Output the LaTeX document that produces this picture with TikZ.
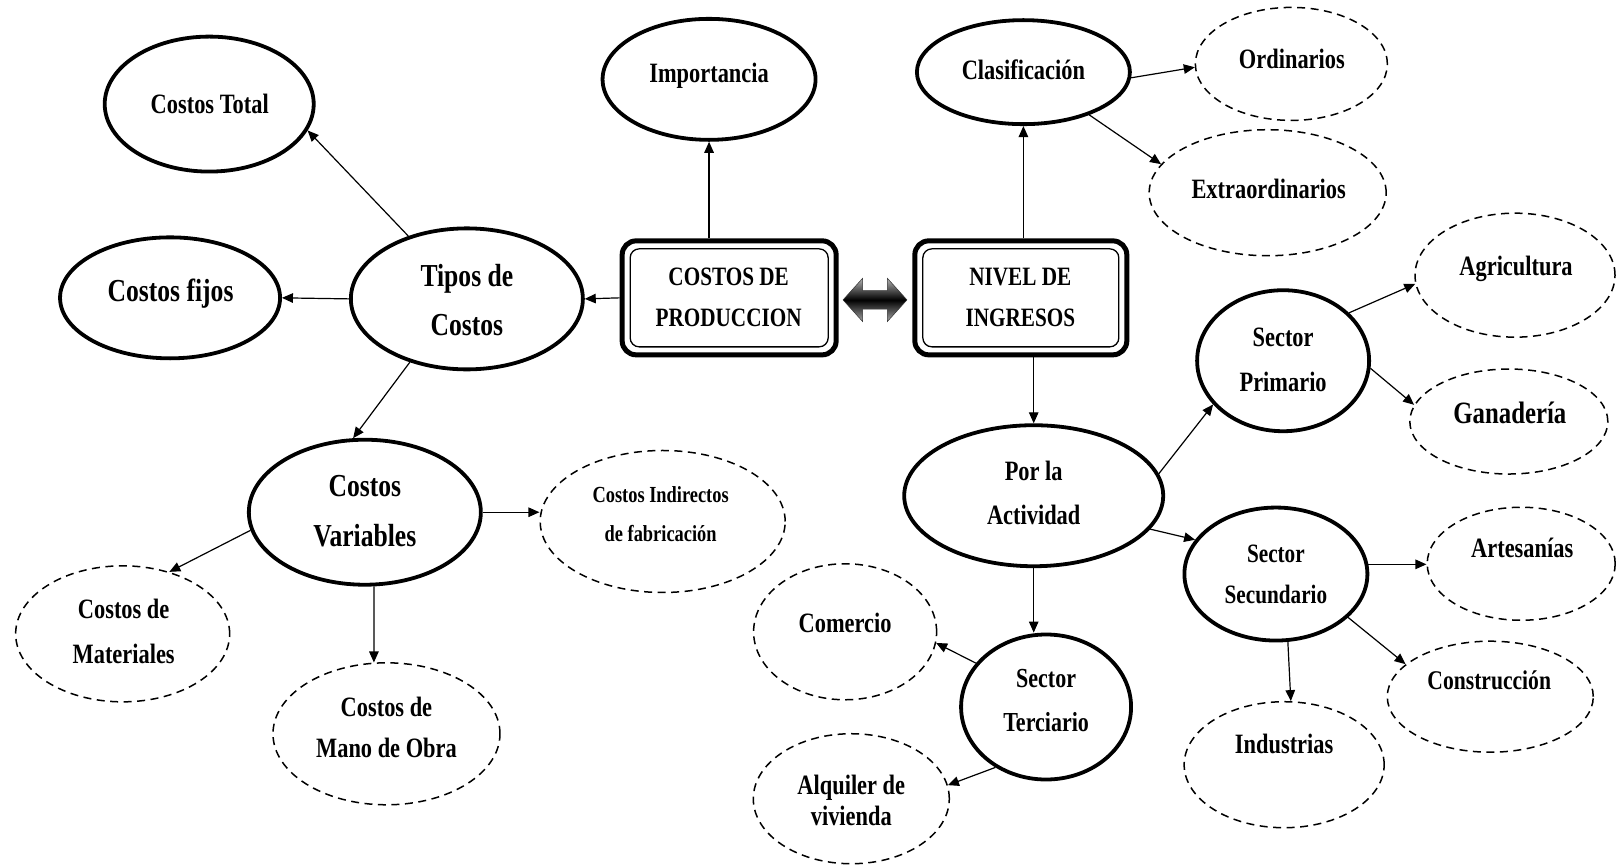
\documentclass[tikz,border=0pt]{standalone}
\usepackage{fontspec}
\setmainfont{Liberation Serif}[FakeStretch=0.8]
\usetikzlibrary{shapes.geometric,arrows.meta,calc}
\tikzset{
  sol/.style={ellipse, draw, line width=3.8pt, inner sep=0pt},
  dsh/.style={ellipse, draw, line width=1.5pt, dash pattern=on 8pt off 5.5pt, inner sep=0pt},
  txt/.style n args={2}{font=\bfseries\fontsize{#1}{#2}\selectfont, align=center, inner sep=0pt},
  arr/.style={-{Triangle[length=11pt,width=9.5pt]}, line width=1.2pt},
  outbox/.style={draw, rectangle, rounded corners=14pt, line width=5pt, minimum width=214pt, minimum height=114pt, inner sep=0pt},
  inbox/.style={draw, rectangle, rounded corners=9pt, line width=1.3pt, minimum width=198pt, minimum height=98pt, inner sep=0pt}
}
\begin{document}
\begin{tikzpicture}[x=1.0306pt, y=-1.0306pt]
\fill[white] (0,0) rectangle (1568,841);
\useasboundingbox (0,0) rectangle (1568,841);

% central boxes
\node[outbox] (cp) at (707.5,289) {};
\node[inbox] (cpin) at (707.5,289) {};
\node[txt={26.5}{41}] (cpt) at (707,289) {COSTOS DE\\PRODUCCION};
\node[outbox, minimum width=212pt] (ni) at (990.5,289) {};
\node[inbox, minimum width=196pt] (niin) at (990.5,289) {};
\node[txt={26.5}{41}] (nit) at (990,289) {NIVEL DE\\INGRESOS};

% double arrow
\shadedraw[top color=gray!60, bottom color=gray!70, middle color=black, draw=black!80, line width=0.5pt]
  (818,291) -- (837,270) -- (837,282) -- (861,282) -- (861,270) -- (880,291)
  -- (861,312) -- (861,300) -- (837,300) -- (837,312) -- cycle;

% solid ellipses
\node[sol, minimum width=209pt, minimum height=135pt] (ct) at (203,101) {};
\node[txt={28}{45}] (ctt) at (203.5,101) {Costos Total};
\node[sol, minimum width=213pt, minimum height=121pt] (imp) at (688,77) {};
\node[txt={28}{45}] (impt) at (688,74) {Importancia};
\node[sol, minimum width=213pt, minimum height=104pt] (clas) at (993,70) {};
\node[txt={28}{45}] (clast) at (993,68) {Clasificación};
\node[sol, minimum width=220pt, minimum height=121pt] (fij) at (165,289) {};
\node[txt={32}{45}] (fijt) at (165.5,285) {Costos fijos};
\node[sol, minimum width=232pt, minimum height=141pt] (tip) at (453,290) {};
\node[txt={32}{49.5}] (tipt) at (453,291) {Tipos de\\Costos};
\node[sol, minimum width=172pt, minimum height=141pt] (sp) at (1245,350) {};
\node[txt={28}{45}] (spt) at (1245,349) {Sector\\Primario};
\node[sol, minimum width=232pt, minimum height=145pt] (cv) at (354,497) {};
\node[txt={32}{49.5}] (cvt) at (354,496) {Costos\\Variables};
\node[sol, minimum width=259pt, minimum height=141pt] (pa) at (1003,481) {};
\node[txt={28}{44}] (pat) at (1003,478) {Por la\\Actividad};
\node[sol, minimum width=183pt, minimum height=133pt] (ss) at (1238,557) {};
\node[txt={26.5}{41}] (sst) at (1238,557) {Sector\\Secundario};
\node[sol, minimum width=170pt, minimum height=145pt] (st) at (1015,686) {};
\node[txt={27.5}{44}] (stt) at (1015,680) {Sector\\Terciario};

% dashed ellipses
\node[dsh, minimum width=192pt, minimum height=113pt] (ord) at (1253,62) {};
\node[txt={28}{45}] (ordt) at (1253.5,57) {Ordinarios};
\node[dsh, minimum width=237pt, minimum height=126pt] (ext) at (1230,187) {};
\node[txt={28}{45}] (extt) at (1231,183) {Extraordinarios};
\node[dsh, minimum width=200pt, minimum height=124pt] (agr) at (1470,267) {};
\node[txt={28}{45}] (agrt) at (1471,261) {Agricultura};
\node[dsh, minimum width=198pt, minimum height=105pt] (gan) at (1464,409) {};
\node[txt={31}{45}] (gant) at (1465,401) {Ganadería};
\node[dsh, minimum width=245pt, minimum height=142pt] (ind) at (643,506) {};
\node[txt={23}{39}] (indt) at (641,499) {Costos Indirectos\\de fabricación};
\node[dsh, minimum width=214pt, minimum height=136pt] (mat) at (119,615) {};
\node[txt={28}{45}] (matt) at (120,613) {Costos de\\Materiales};
\node[dsh, minimum width=227pt, minimum height=142pt] (mo) at (375,712) {};
\node[txt={28}{41}] (mot) at (375,706) {Costos de\\Mano de Obra};
\node[dsh, minimum width=188pt, minimum height=113pt] (art) at (1476,547) {};
\node[txt={28}{45}] (artt) at (1477,532) {Artesanías};
\node[dsh, minimum width=206pt, minimum height=111pt] (con) at (1446,676) {};
\node[txt={27}{45}] (cont) at (1445,660) {Construcción};
\node[dsh, minimum width=200pt, minimum height=126pt] (inds) at (1246,742) {};
\node[txt={28}{45}] (indst) at (1246,722) {Industrias};
\node[dsh, minimum width=183pt, minimum height=136pt] (com) at (820,613) {};
\node[txt={28}{45}] (comt) at (820,604) {Comercio};
\node[dsh, minimum width=196pt, minimum height=130pt] (alq) at (826,775) {};
\node[txt={28}{31}] (alqt) at (826,777) {Alquiler de\\vivienda};

% connectors
\draw[arr] (cp.west) -- (tip.east);
\draw[arr] (imp.south |- cp.north) -- (imp.south);
\draw[arr] (tip.133) -- (ct.345);
\draw[arr] (tip.west) -- (fij.east);
\draw[arr] (tip.228) -- (cv.99);
\draw[arr] (cv.189) -- (mat.53);
\draw[arr] (cv.277) -- (mo.100);
\draw[arr] (cv.east) -- (cv.east -| ind.west);

\draw[arr] (clas.south |- ni.north) -- (clas.south);
\draw[arr] (clas.357) -- (ord.182);
\draw[arr] (clas.327) -- (ext.165);
\draw[arr] (pa.north |- ni.south) -- (pa.north);
\draw[arr] (pa.10) -- (sp.212);
\draw[arr] (pa.344) -- (ss.157);
\draw[arr] (pa.south) -- (pa.south |- st.north);
\draw[arr] (sp.36) -- (agr.185);
\draw[arr] (sp.355) -- (gan.170);
\draw[arr] (ss.6) -- (ss.6 -| art.west);
\draw[arr] (ss.329) -- (con.159);
\draw[arr] (ss.280) -- (inds.84);
\draw[arr] (st.148) -- (com.353);
\draw[arr] (st.230) -- (alq.8);
\end{tikzpicture}
\end{document}
